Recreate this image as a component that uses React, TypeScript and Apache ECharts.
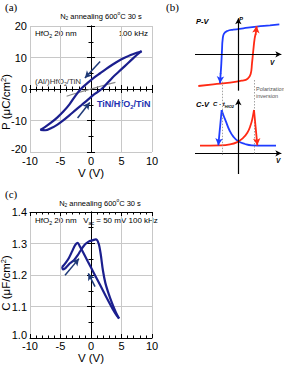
import React, { useEffect, useRef } from 'react';
import * as echarts from 'echarts';

// ---------- Panel (a): P-V hysteresis ----------
const pvUpper: [number, number][] = [
  [8.3, 12.0], [7.5, 11.5], [6.5, 10.8], [5.5, 9.9], [4.5, 8.9], [3.5, 7.7], [2.5, 6.4],
  [1.5, 5.0], [0.5, 3.6], [-0.5, 2.0], [-1.5, 0.3], [-2.5, -2.0], [-3.5, -4.8],
  [-4.5, -7.1], [-5.5, -9.0], [-6.5, -10.6], [-7.5, -12.0], [-8.3, -13.0],
];
const pvLower: [number, number][] = [
  [-8.3, -13.0], [-7.5, -13.1], [-6.5, -12.4], [-5.5, -11.3], [-4.5, -9.9], [-3.5, -8.3],
  [-2.5, -6.6], [-1.5, -5.0], [-0.5, -3.4], [0.5, -1.7], [1.5, -0.4], [2.5, 1.5],
  [3.5, 3.6], [4.5, 5.4], [5.5, 7.2], [6.5, 9.0], [7.5, 10.8], [8.3, 12.0],
];
const alLine: [number, number][] = [[-4, -2.3], [-2, -1.1], [0, 0], [2, 1.1], [4, 2.1]];
const pvArrows: [number, number][][] = [
  [[1.5, 8.7], [-1.0, 3.5]],
  [[-2.2, -9.2], [-0.2, -4.3]],
];
const pvXTicks = [-10, 10, 5];
const pvYTicks = [-20, 20, 10];

// ---------- Panel (c): C-V ----------
const cvForward: [number, number][] = [
  [-4.75, 1.225], [-4.6, 1.218], [-4.3, 1.22], [-3.9, 1.228], [-3.4, 1.238], [-2.8, 1.247],
  [-2.2, 1.262], [-1.6, 1.281], [-1.0, 1.297], [-0.4, 1.306], [0.2, 1.31], [0.8, 1.313],
  [1.25, 1.3], [1.6, 1.265], [1.95, 1.215], [2.35, 1.175], [2.9, 1.14], [3.5, 1.108],
  [4.1, 1.08], [4.6, 1.062],
];
const cvBackward: [number, number][] = [
  [4.6, 1.062], [4.2, 1.072], [3.5, 1.094], [2.5, 1.13], [1.5, 1.168], [0.5, 1.205],
  [-0.5, 1.242], [-1.3, 1.272], [-1.8, 1.29], [-2.2, 1.302], [-2.6, 1.295], [-3.1, 1.275],
  [-3.6, 1.255], [-4.1, 1.24], [-4.5, 1.23], [-4.75, 1.225],
];
const cvArrows: [number, number][][] = [
  [[0.66, 1.163], [-0.44, 1.205]],
  [[-4.26, 1.199], [-1.97, 1.252]],
];
const cvXTicks = [-10, 10, 5];
const cvYTicks = [1.0, 1.4, 0.1];

// ---------- Panel (b): schematic (panel units) ----------
const sPvBlue: [number, number][] = [
  [328, 73], [300, 76], [260, 80], [220, 85], [190, 89], [172, 93], [162, 101], [158, 118],
  [156, 150], [154, 190], [152, 222],
];
const sPvBlueHead: [number, number][] = [[152, 220], [150, 250]];
const sPvRed: [number, number][] = [
  [85, 258], [130, 253], [180, 248], [215, 242], [233, 236], [242, 222], [246, 190],
  [250, 150], [254, 115], [257, 102],
];
const sPvRedHead: [number, number][] = [[257, 104], [260, 78]];
const sCvBlue: [number, number][] = [
  [318, 437], [280, 437], [245, 436], [225, 432], [205, 424], [190, 410], [178, 390],
  [168, 365], [160, 345], [155, 330],
];
const sCvBlueHead: [number, number][] = [[155, 330], [145, 436]];
const sCvRed: [number, number][] = [
  [90, 437], [150, 436], [180, 433], [200, 427], [218, 415], [232, 398], [242, 375],
  [248, 352], [252, 330],
];
const sCvRedHead: [number, number][] = [[252, 330], [262, 436]];
const sAxes: [number, number][][] = [
  [[205, 272], [205, 55]],
  [[75, 163], [334, 163]],
  [[205, 522], [205, 298]],
  [[75, 460], [334, 460]],
];
const sDotted: [number, number][][] = [
  [[157, 245], [157, 465]],
  [[252, 240], [252, 465]],
];

const FONT = '"Liberation Sans", Arial, sans-serif';
const NAVY = '#1b1f8e';
const ARROW = '#1f3a78';
const BLUE = '#1f3cff';
const RED = '#ff2a14';

function arrowMark(segs: [number, number][][], color: string, width: number, size: number) {
  return {
    silent: true,
    animation: false,
    symbol: ['none', 'arrow'],
    symbolSize: [size * 0.8, size],
    label: { show: false },
    emphasis: { disabled: true },
    lineStyle: { color, width, type: 'solid' },
    data: segs.map((s) => [{ coord: s[0] }, { coord: s[1] }]),
  };
}

function makeAxes(grid: number, xt: number[], yt: number[], xMinor: number, yMinor: number, yFmt: (v: number) => string, labelMargin: number, nameGap: number) {
  const tick = { inside: true, length: 4, lineStyle: { color: '#000', width: 1 } };
  const minor = (n: number) => ({ show: true, splitNumber: n, length: 2.5, lineStyle: { color: '#000', width: 1 } });
  const line = { show: true, lineStyle: { color: '#000', width: 1 } };
  const xAxes = [
    {
      gridIndex: grid, type: 'value', min: xt[0], max: xt[1], interval: xt[2],
      axisLine: line, axisTick: tick, minorTick: minor(xMinor),
      splitLine: { show: true, lineStyle: { color: '#c8c8c8', width: 1 } },
      axisLabel: { color: '#000', fontSize: 11, fontFamily: FONT, margin: labelMargin, lineHeight: 11 },
      name: 'V (V)', nameLocation: 'middle', nameGap,
      nameTextStyle: { color: '#000', fontFamily: FONT, fontSize: 11.5, lineHeight: 12 },
    },
    {
      gridIndex: grid, type: 'value', position: 'top', min: xt[0], max: xt[1], interval: xt[2],
      axisLine: line, axisTick: tick, minorTick: minor(xMinor), splitLine: { show: false },
      axisLabel: { show: false },
    },
  ];
  const yAxes = [
    {
      gridIndex: grid, type: 'value', min: yt[0], max: yt[1], interval: yt[2],
      axisLine: line, axisTick: tick, minorTick: minor(yMinor),
      splitLine: { show: true, lineStyle: { color: '#c8c8c8', width: 1 } },
      axisLabel: {
        color: '#000', fontSize: 11, fontFamily: FONT, margin: 3, lineHeight: 11,
        formatter: (v: number) => (Math.abs(v - yt[0]) < 1e-9 ? `{m|${yFmt(v)}}` : yFmt(v)),
        rich: { m: { fontSize: 11, fontFamily: FONT, color: '#000', lineHeight: 17, verticalAlign: 'top' } },
      },
    },
    {
      gridIndex: grid, type: 'value', position: 'right', min: yt[0], max: yt[1], interval: yt[2],
      axisLine: line, axisTick: tick, minorTick: minor(yMinor), splitLine: { show: false },
      axisLabel: { show: false },
    },
  ];
  return { xAxes, yAxes };
}

function txt(x: number, y: number, text: string, opts: any = {}) {
  const { align = 'left', vAlign = 'middle', size = 8, color = '#000', weight = 'normal', style = 'normal', family = FONT, rich, rotation = 0 } = opts;
  return {
    type: 'text', x, y, rotation, silent: true,
    style: {
      text, fill: color, fontSize: size, fontFamily: family, fontWeight: weight, fontStyle: style,
      align, verticalAlign: vAlign, textAlign: align, textVerticalAlign: vAlign,
      rich,
    },
  };
}

function richSet(size: number, color: string, weight = 'normal', style = 'normal') {
  return {
    n: { fontSize: size, fontFamily: FONT, fill: color, color, fontWeight: weight, fontStyle: style, lineHeight: size + 3 },
    s: { fontSize: size * 0.65, fontFamily: FONT, fill: color, color, fontWeight: weight, fontStyle: style, verticalAlign: 'bottom', lineHeight: size + 3 },
    u: { fontSize: size * 0.65, fontFamily: FONT, fill: color, color, fontWeight: weight, fontStyle: style, verticalAlign: 'top', lineHeight: size + 3 },
  };
}

export default function App() {
  const ref = useRef<HTMLDivElement>(null);
  useEffect(() => {
    if (!ref.current) return;
    const chart = echarts.init(ref.current, undefined, { renderer: 'svg' });
    const a = makeAxes(0, pvXTicks, pvYTicks, 5, 2, (v: number) => String(v), 3, 13);
    const c = makeAxes(1, cvXTicks, cvYTicks, 5, 2, (v: number) => v.toFixed(1), 2, 13);
    const bx = { gridIndex: 2, type: 'value', min: 0, max: 342, show: false };
    const by = { gridIndex: 2, type: 'value', min: 0, max: 540, inverse: true, show: false };

    const lineS = (data: any, xi: number, yi: number, color: string, width: number, smooth: any = false, extra: any = {}) => ({
      type: 'line', data, xAxisIndex: xi, yAxisIndex: yi, showSymbol: false, symbol: 'none', smooth,
      lineStyle: { color, width }, silent: true, z: 3, ...extra,
    });

    const gridBase = { containLabel: false, outerBoundsMode: 'none' };
    const upRich = {
      n: { fontSize: 11.5, fontFamily: FONT, fill: '#000', lineHeight: 13 },
      u: { fontSize: 7.5, fontFamily: FONT, fill: '#000', verticalAlign: 'top', lineHeight: 13 },
    };
    const option: any = {
      animation: false,
      grid: [
        { ...gridBase, left: 30, top: 26, width: 122, height: 126 },
        { ...gridBase, left: 30, top: 212, width: 122, height: 126 },
        { ...gridBase, left: 170, top: 0, width: 114, height: 180 },
      ],
      xAxis: [...a.xAxes, ...c.xAxes, bx],
      yAxis: [...a.yAxes, ...c.yAxes, by],
      series: [
        lineS(alLine, 0, 0, '#8a8a8a', 1.2, true),
        lineS(pvUpper, 0, 0, NAVY, 2.2, 0.3, { markLine: arrowMark(pvArrows, ARROW, 1.5, 7) }),
        lineS(pvLower, 0, 0, NAVY, 2.2, 0.3),
        lineS(cvForward, 2, 2, NAVY, 2.2, 0.3, { markLine: arrowMark(cvArrows, ARROW, 1.5, 7) }),
        lineS(cvBackward, 2, 2, NAVY, 2.2, 0.3),
        // schematic
        lineS([sAxes[0][0]], 4, 4, '#000', 1, false, {
          markLine: arrowMark(sAxes, '#000', 1.2, 6),
        }),
        lineS([sDotted[0][0]], 4, 4, '#999', 1, false, {
          markLine: { ...arrowMark(sDotted, '#8c8c8c', 0.8, 4), symbol: ['none', 'none'], lineStyle: { color: '#8c8c8c', width: 0.8, type: [1.5, 1.5] } },
        }),
        lineS(sPvBlue, 4, 4, BLUE, 1.8, true, { markLine: arrowMark([sPvBlueHead], BLUE, 1.8, 7) }),
        lineS(sPvRed, 4, 4, RED, 1.8, true, { markLine: arrowMark([sPvRedHead], RED, 1.8, 7) }),
        lineS(sCvBlue, 4, 4, BLUE, 1.8, true, { markLine: arrowMark([sCvBlueHead], BLUE, 1.8, 7) }),
        lineS(sCvRed, 4, 4, RED, 1.8, true, { markLine: arrowMark([sCvRedHead], RED, 1.8, 7) }),
      ],
      graphic: [
        txt(6, 102, '{n|P (μC/cm}{u|2}{n|)}', { align: 'center', rotation: Math.PI / 2, rich: upRich }),
        txt(6, 283, '{n|C (μF/cm}{u|2}{n|)}', { align: 'center', rotation: Math.PI / 2, rich: upRich }),
        txt(5, 7, '(a)', { size: 11, family: '"Liberation Serif", "Times New Roman", serif' }),
        txt(166, 7, '(b)', { size: 11, family: '"Liberation Serif", "Times New Roman", serif' }),
        txt(5, 194, '(c)', { size: 11, family: '"Liberation Serif", "Times New Roman", serif' }),
        txt(101, 16, '{n|N}{s|2}{n| annealing 600}{u|o}{n|C 30 s}', { align: 'center', rich: richSet(7.5, '#000') }),
        txt(35, 33, '{n|HfO}{s|2}{n| 20 nm}', { rich: richSet(8, '#000') }),
        txt(148, 33, '100 kHz', { align: 'right', size: 8 }),
        txt(35, 81, '{n|(Al/)HfO}{s|2}{n|/TiN}', { rich: richSet(8, '#333') }),
        txt(97, 104, '{n|TiN/HfO}{s|2}{n|/TiN}', { rich: richSet(9, '#2430b0', 'bold') }),
        txt(100, 203, '{n|N}{s|2}{n| annealing 600}{u|o}{n|C 30 s}', { align: 'center', rich: richSet(7.5, '#000') }),
        txt(35, 220, '{n|HfO}{s|2}{n| 20 nm   V}{s|ac}{n| = 50 mV 100 kHz}', { rich: richSet(8, '#000') }),
        txt(196, 21, 'P-V', { size: 7.5, weight: 'bold', style: 'italic' }),
        txt(239, 19, 'P', { size: 6, weight: 'bold', style: 'italic' }),
        txt(270, 62, 'V', { size: 6.5, weight: 'bold', style: 'italic' }),
        txt(196, 104, 'C-V', { size: 7.5, weight: 'bold', style: 'italic' }),
        txt(213, 104, '{n|C · t}{s|HfO2}', { rich: richSet(6, '#000', 'bold', 'italic') }),
        txt(276, 160, 'V', { size: 6.5, weight: 'bold', style: 'italic' }),
        txt(256, 89, 'Polarization', { size: 5.5, color: '#555' }),
        txt(256, 96, 'inversion', { size: 5.5, color: '#555' }),
      ],
    };
    chart.setOption(option);
    return () => chart.dispose();
  }, []);
  return <div ref={ref} style={{ position: 'absolute', left: 0, top: 0, width: 284, height: 365, background: '#fff' }} />;
}
